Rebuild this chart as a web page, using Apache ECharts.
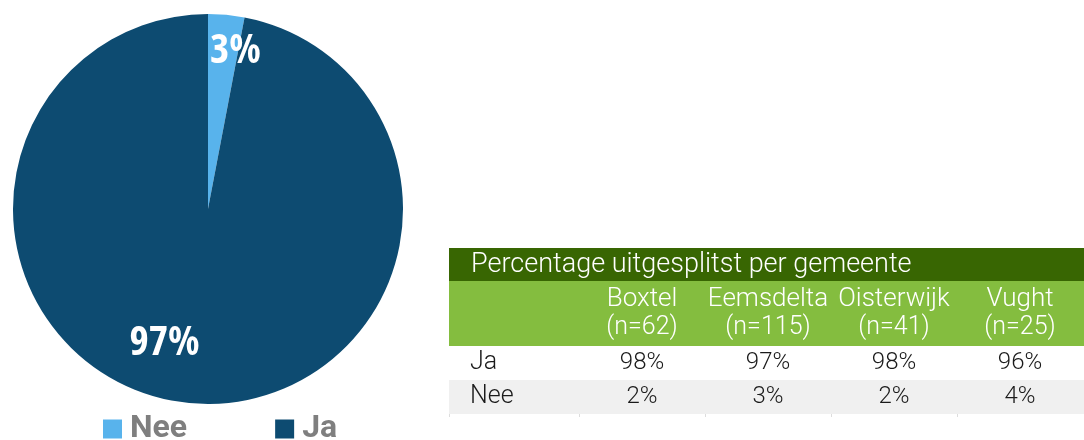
<!DOCTYPE html>
<html>
<head>
<meta charset="utf-8">
<script src="https://cdn.jsdelivr.net/npm/echarts@6/dist/echarts.min.js"></script>
<style>
  html, body { margin: 0; padding: 0; background: #fff; }
  #main { width: 1084px; height: 440px; }
</style>
</head>
<body>
<div id="main"></div>
<script>
// pie data
var pieNames = ['Nee', 'Ja'];
var pieValues = [3, 97];
var pieColors = ['#58b3ec', '#0d4b71'];

// table data
var tableTitle = 'Percentage uitgesplitst per gemeente';
var gemeenten = ['Boxtel', 'Eemsdelta', 'Oisterwijk', 'Vught'];
var aantallen = [62, 115, 41, 25];
var rowNames = ['Ja', 'Nee'];
var jaValues = [98, 97, 98, 96];
var neeValues = [2, 3, 2, 4];

// label nudges (pixels) away from the default inside position
var labelShift = [[18, -58], [-34, 34]];

var chart = echarts.init(document.getElementById('main'));

// table layout
var tLeft = 449, tRight = 1084, labelX = 470;
var colStart = 579, colW = 126;
var rowTops = [248, 281, 346, 380, 414];

function txt(text, x, y, align, color, size) {
  return {
    type: 'text',
    style: {
      text: text, x: x, y: y,
      textAlign: align, textVerticalAlign: 'middle',
      fill: color, fontFamily: 'Roboto', fontSize: size, fontWeight: 300
    }
  };
}

var graphics = [];
graphics.push({ type: 'rect', shape: { x: tLeft, y: rowTops[0], width: tRight - tLeft, height: rowTops[1] - rowTops[0] }, style: { fill: '#386602' } });
graphics.push({ type: 'rect', shape: { x: tLeft, y: rowTops[1], width: tRight - tLeft, height: rowTops[2] - rowTops[1] }, style: { fill: '#84bd3f' } });
graphics.push({ type: 'rect', shape: { x: tLeft, y: rowTops[3], width: tRight - tLeft, height: rowTops[4] - rowTops[3] }, style: { fill: '#f0f0f0' } });

graphics.push(txt(tableTitle, 471, (rowTops[0] + rowTops[1]) / 2 + 1, 'left', '#ffffff', 27));

var rowData = [jaValues, neeValues];
gemeenten.forEach(function (g, i) {
  var cx = colStart + colW * i + colW / 2;
  graphics.push(txt(g, cx, 299, 'center', '#ffffff', 26));
  graphics.push(txt('(n=' + aantallen[i] + ')', cx, 328, 'center', '#ffffff', 25));
  rowData.forEach(function (vals, r) {
    graphics.push(txt(vals[i] + '%', cx, (rowTops[r + 2] + rowTops[r + 3]) / 2, 'center', '#1a1a1a', 24));
  });
});
rowNames.forEach(function (n, r) {
  graphics.push(txt(n, labelX, (rowTops[r + 2] + rowTops[r + 3]) / 2, 'left', '#1a1a1a', 25));
});
// faint column ticks under the table
for (var k = 0; k <= gemeenten.length; k++) {
  var tx = k === 0 ? tLeft : colStart + colW * (k - 1);
  graphics.push({ type: 'rect', shape: { x: tx, y: rowTops[4], width: 1, height: 3 }, style: { fill: '#dddddd' } });
}

var option = {
  animation: false,
  color: pieColors,
  legend: {
    data: pieNames,
    left: 103,
    top: 413,
    icon: 'rect',
    itemWidth: 19,
    itemHeight: 19,
    itemGap: 88,
    padding: 0,
    textStyle: {
      fontFamily: 'Roboto',
      fontSize: 32,
      fontWeight: 'bold',
      color: '#7f7f7f',
      lineHeight: 32,
      padding: [0, 0, 0, 3]
    }
  },
  series: [
    {
      type: 'pie',
      center: [208, 209],
      radius: 195,
      startAngle: 90,
      clockwise: true,
      data: pieNames.map(function (n, i) { return { name: n, value: pieValues[i] }; }),
      label: {
        show: true,
        position: 'inside',
        formatter: function (p) { return p.value + '%'; },
        color: '#ffffff',
        fontFamily: 'Open Sans',
        fontWeight: 'bold condensed',
        fontSize: 41
      },
      labelLayout: function (p) {
        return { dx: labelShift[p.dataIndex][0], dy: labelShift[p.dataIndex][1] };
      },
      labelLine: { show: false },
      itemStyle: { borderWidth: 0 },
      emphasis: { disabled: true }
    }
  ],
  graphic: graphics
};

chart.setOption(option);
</script>
</body>
</html>
